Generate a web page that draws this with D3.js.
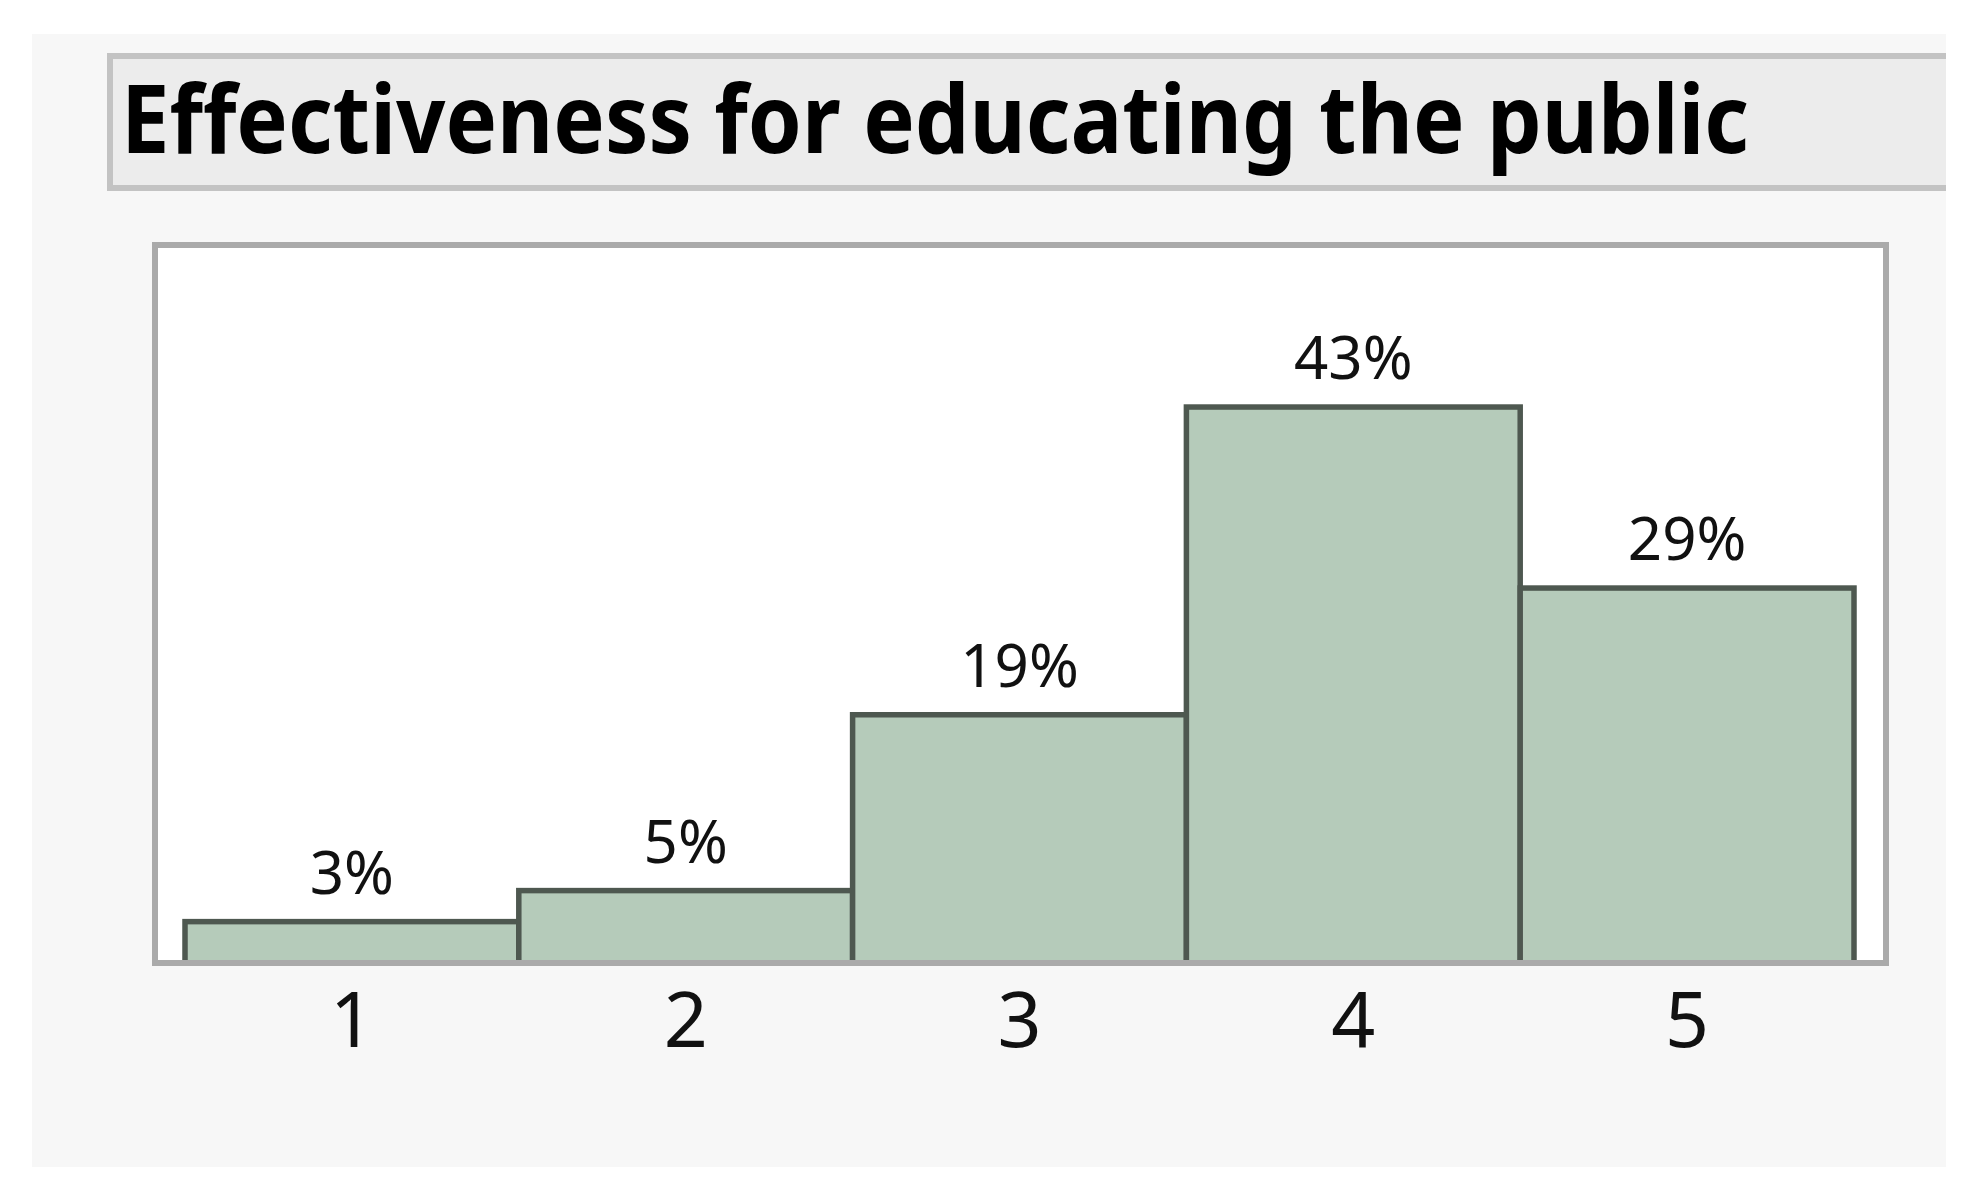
<!DOCTYPE html>
<html lang="en">
<head>
	<meta charset="utf-8">
	<script type="text/javascript" src="https://d3js.org/d3.v7.min.js"></script>
	<style type="text/css">
		body { margin: 0; background: #ffffff; }
		svg { display: block; }
	</style>
</head>
<body>
<script type="text/javascript">
var title = "Effectiveness for educating the public";
var categories = ["1", "2", "3", "4", "5"];
var percents = [3.2, 5.6, 19.2, 43.0, 29.0];
var barLabels = ["3%", "5%", "19%", "43%", "29%"];

var width = 1973, height = 1189;

var svg = d3.select("body")
    .append("svg")
    .attr("width", width)
    .attr("height", height);

// grey panel behind everything
svg.append("rect")
    .attr("x", 32).attr("y", 34)
    .attr("width", 1914).attr("height", 1133)
    .attr("fill", "#f7f7f7");

// title box
svg.append("rect")
    .attr("x", 110).attr("y", 56)
    .attr("width", 1850).attr("height", 132)
    .attr("fill", "#ececec")
    .attr("stroke", "#c3c3c3")
    .attr("stroke-width", 6);
svg.append("rect")
    .attr("x", 1946).attr("y", 40)
    .attr("width", 27).attr("height", 170)
    .attr("fill", "#ffffff");

svg.append("text")
    .attr("x", 121)
    .attr("y", 153)
    .attr("font-family", "Noto Sans")
    .attr("font-weight", "bold")
    .attr("font-size", 95)
    .attr("textLength", 1628)
    .attr("lengthAdjust", "spacingAndGlyphs")
    .attr("fill", "#000000")
    .text(title);

// plot frame
var frame = { left: 155, top: 245, right: 1886, bottom: 963 };

svg.append("rect")
    .attr("x", frame.left).attr("y", frame.top)
    .attr("width", frame.right - frame.left)
    .attr("height", frame.bottom - frame.top)
    .attr("fill", "#ffffff");

var x = d3.scaleBand()
    .domain(categories)
    .range([185, 1854])
    .padding(0);

var y = d3.scaleLinear()
    .domain([0, 55.3])
    .range([frame.bottom, frame.top + 3]);

var data = categories.map(function(c, i) {
    return { cat: c, value: percents[i], label: barLabels[i] };
});

svg.selectAll(".bar")
    .data(data)
    .enter()
    .append("rect")
    .attr("class", "bar")
    .attr("x", function(d) { return x(d.cat); })
    .attr("width", x.bandwidth())
    .attr("y", function(d) { return y(d.value); })
    .attr("height", function(d) { return y(0) - y(d.value); })
    .attr("fill", "#b5cbba")
    .attr("stroke", "#4e5850")
    .attr("stroke-width", 5.5);

svg.selectAll(".bar-label")
    .data(data)
    .enter()
    .append("text")
    .attr("class", "bar-label")
    .attr("x", function(d) { return x(d.cat) + x.bandwidth() / 2; })
    .attr("y", function(d) { return y(d.value) - 28; })
    .attr("text-anchor", "middle")
    .attr("font-family", "Noto Sans")
    .attr("font-size", 60)
    .attr("fill", "#111111")
    .text(function(d) { return d.label; });

// frame border drawn on top so it covers bar bottoms
svg.append("rect")
    .attr("x", frame.left).attr("y", frame.top)
    .attr("width", frame.right - frame.left)
    .attr("height", frame.bottom - frame.top)
    .attr("fill", "none")
    .attr("stroke", "#aaaaaa")
    .attr("stroke-width", 6);

var xAxis = d3.axisBottom(x).tickSize(0).tickPadding(0);

var axisG = svg.append("g")
    .attr("transform", "translate(0," + 1047 + ")")
    .call(xAxis);

axisG.select(".domain").remove();
axisG.selectAll("text")
    .attr("dy", 0)
    .attr("y", 0)
    .attr("font-family", "Noto Sans")
    .attr("font-size", 77)
    .attr("fill", "#111111");
</script>
</body>
</html>
